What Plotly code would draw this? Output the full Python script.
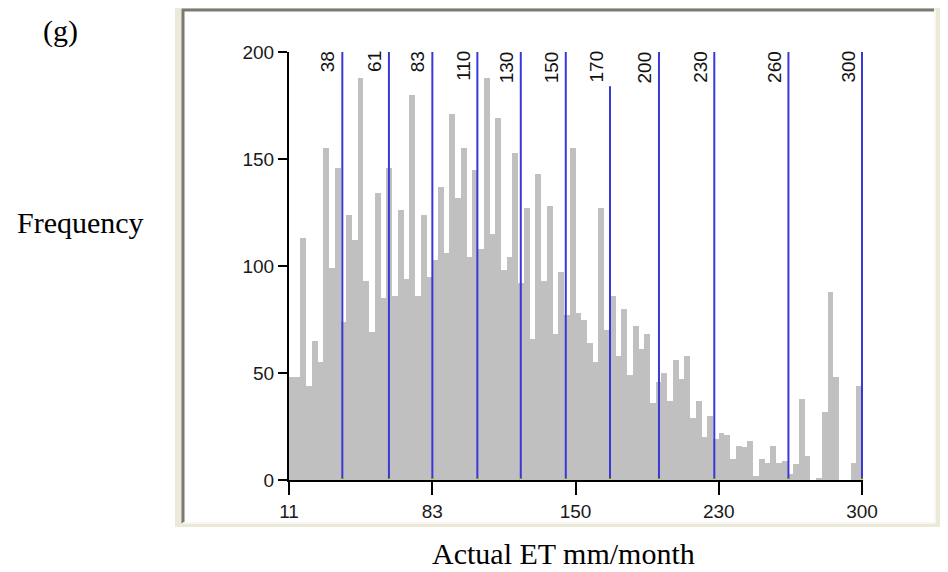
import plotly.graph_objects as go

# ---------------- data ----------------
freq = [48, 48, 113, 44, 65, 55, 155, 99, 146, 74,
        124, 112, 188, 93, 69, 134, 85, 146, 86, 126,
        94, 180, 86, 124, 95, 103, 137, 106, 171, 132,
        155, 104, 145, 108, 188, 115, 169, 98, 104, 153,
        92, 127, 66, 143, 93, 128, 68, 97, 77, 155,
        78, 75, 64, 55, 127, 70, 86, 58, 80, 49,
        72, 61, 68, 36, 46, 50, 37, 56, 47, 58,
        29, 37, 20, 30, 19, 22, 21, 10, 16, 15.5,
        18, 2, 10, 8, 16, 8, 9, 3, 7.7, 38,
        11, 0, 1, 32, 88, 48, 0, 0, 8, 44]
x_min, x_max = 11, 300

break_values = [37.9, 61.4, 83.3, 106.0, 127.9, 150.6, 172.9, 197.6, 225.5, 262.9, 300]
break_labels = ["38", "61", "83", "110", "130", "150", "170", "200", "230", "260", "300"]
break_tops = [200, 200, 200, 200, 200, 200, 184, 200, 200, 200, 200]

x_tick_labels = ["11", "83", "150", "230", "300"]
y_tick_vals = [0, 50, 100, 150, 200]

# ---------------- layout constants ----------------
OFF = 8                      # default page body margin
W, H = 948 - OFF, 572 - OFF  # figure size so that it fits the window
# plot area in screen pixels: x 289..863, y 52..480
SX0, SX1, SY0, SY1 = 289, 863, 52, 480
L, T = SX0 - OFF, SY0 - OFF
R, B = W - (SX1 - OFF), H - (SY1 - OFF)
PW, PH = W - L - R, H - T - B
x_hi = x_min + (x_max - x_min) * PW / (PW - 1)   # one extra pixel so the last line is not clipped


def px(xs):
    return (xs - OFF - L) / PW


def py(ys):
    return (H - B - (ys - OFF)) / PH


n = len(freq)
bw = (x_max - x_min) / n
centers = [x_min + (i + 0.5) * bw for i in range(n)]
tick_vals = [x_min + k * (x_max - x_min) / (len(x_tick_labels) - 1) for k in range(len(x_tick_labels))]

sans = "Liberation Sans, Arial, sans-serif"
serif = "Liberation Serif, Times New Roman, serif"

fig = go.Figure()

fig.add_trace(go.Bar(
    x=centers, y=freq, width=[bw] * n,
    marker=dict(color="#c0c0c0", line=dict(width=0)),
    hoverinfo="skip", showlegend=False,
))

# class break lines
for v, top in zip(break_values, break_tops):
    fig.add_trace(go.Scatter(
        x=[v, v], y=[0, top], mode="lines",
        line=dict(color="#3838d8", width=2),
        hoverinfo="skip", showlegend=False,
    ))

fig.add_trace(go.Scatter(
    x=break_values, y=[0] * len(break_values), mode="markers",
    marker=dict(color="#e8e000", size=3),
    cliponaxis=False, hoverinfo="skip", showlegend=False,
))

for v, lab in zip(break_values, break_labels):
    fig.add_annotation(
        x=v, y=200, xref="x", yref="y", text=lab, textangle=-90,
        showarrow=False, xanchor="right", yanchor="top",
        xshift=-2, yshift=3,
        font=dict(family=sans, size=19, color="#111111"),
    )

# frame (sunken panel)
shapes = [
    dict(type="rect", xref="paper", yref="paper", x0=px(175), x1=px(944), y0=py(527), y1=py(8),
         fillcolor="#ece9d8", line=dict(width=0), layer="below"),
    dict(type="rect", xref="paper", yref="paper", x0=px(183), x1=px(934), y0=py(522), y1=py(10),
         fillcolor="#ffffff", line=dict(width=0), layer="below"),
    dict(type="line", xref="paper", yref="paper", x0=px(182), x1=px(934), y0=py(10), y1=py(10),
         line=dict(color="#7a7a72", width=3), layer="below"),
    dict(type="line", xref="paper", yref="paper", x0=px(183), x1=px(183), y0=py(523), y1=py(9),
         line=dict(color="#7a7a72", width=3), layer="below"),
    dict(type="line", xref="paper", yref="paper", x0=px(183), x1=px(935), y0=py(523), y1=py(523),
         line=dict(color="#f7f6f0", width=2), layer="below"),
    dict(type="line", xref="paper", yref="paper", x0=px(935), x1=px(935), y0=py(523), y1=py(10),
         line=dict(color="#f7f6f0", width=2), layer="below"),
]

fig.add_annotation(x=px(60), y=py(31), xref="paper", yref="paper", text="(g)", showarrow=False,
                   xanchor="center", yanchor="middle",
                   font=dict(family=serif, size=30, color="black"))
fig.add_annotation(x=px(80), y=py(222), xref="paper", yref="paper", text="Frequency", showarrow=False,
                   xanchor="center", yanchor="middle",
                   font=dict(family=serif, size=30, color="black"))
fig.add_annotation(x=px(563), y=py(553), xref="paper", yref="paper", text="Actual ET mm/month",
                   showarrow=False, xanchor="center", yanchor="middle",
                   font=dict(family=serif, size=30, color="black"))

tickfont = dict(family=sans, size=19, color="#1a1a1a")

fig.update_layout(
    width=W, height=H,
    margin=dict(l=L, r=R, t=T, b=B, pad=0),
    paper_bgcolor="white", plot_bgcolor="rgba(0,0,0,0)",
    bargap=0, shapes=shapes,
    xaxis=dict(range=[x_min, x_hi], tickvals=tick_vals, ticktext=x_tick_labels,
               showgrid=False, zeroline=False, showline=True, linecolor="black", linewidth=2,
               ticks="outside", ticklen=13, tickwidth=2, tickcolor="black", tickfont=tickfont),
    yaxis=dict(range=[0, 200], tickvals=y_tick_vals, showgrid=False, zeroline=False,
               showline=True, linecolor="black", linewidth=2,
               ticks="outside", ticklen=9, tickwidth=2, tickcolor="black", tickfont=tickfont),
)

fig.write_html("out.html")
